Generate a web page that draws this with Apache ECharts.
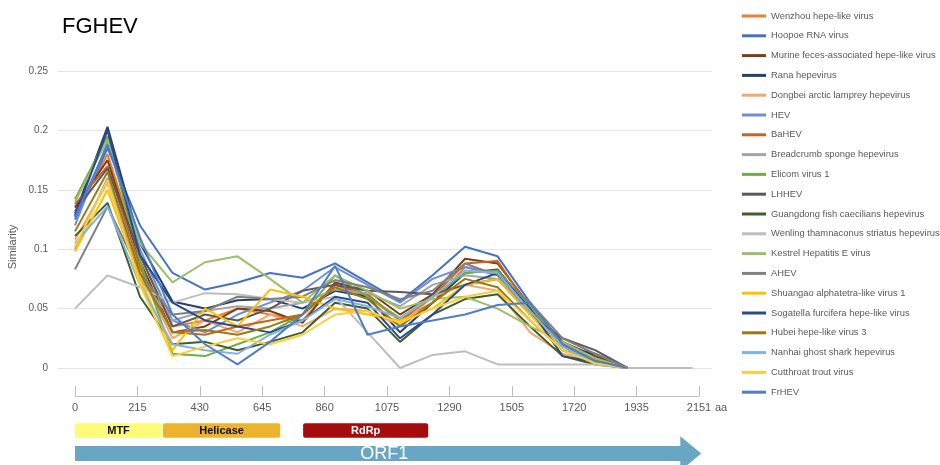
<!DOCTYPE html>
<html>
<head>
<meta charset="utf-8">
<script src="https://cdn.jsdelivr.net/npm/echarts@6/dist/echarts.min.js"></script>
<style>
  html, body { margin: 0; padding: 0; background: #ffffff; }
  #chart { width: 940px; height: 465px; }
</style>
</head>
<body>
<div id="chart"></div>
<script>
// Sliding-window start positions along ORF1 (aa)
const windowPos = [0, 112, 224, 336, 448, 560, 672, 784, 896, 1008, 1120, 1232, 1344, 1456, 1568, 1680, 1792, 1904, 2016, 2128];

// Similarity of FGHEV ORF1 to each virus, one value per window
const wenzhou    = [0.128, 0.180, 0.095, 0.035, 0.040, 0.050, 0.045, 0.040, 0.070, 0.060, 0.040, 0.055, 0.085, 0.080, 0.045, 0.020, 0.008, 0];
const hoopoe     = [0.125, 0.185, 0.120, 0.080, 0.066, 0.072, 0.080, 0.076, 0.088, 0.072, 0.056, 0.078, 0.102, 0.094, 0.055, 0.020, 0.005, 0];
const murine     = [0.135, 0.175, 0.090, 0.030, 0.035, 0.050, 0.048, 0.038, 0.072, 0.065, 0.045, 0.062, 0.092, 0.088, 0.052, 0.022, 0.010, 0];
const rana       = [0.130, 0.203, 0.105, 0.056, 0.050, 0.057, 0.058, 0.050, 0.065, 0.060, 0.030, 0.055, 0.080, 0.083, 0.050, 0.018, 0.012, 0];
const dongbei    = [0.108, 0.156, 0.080, 0.025, 0.040, 0.030, 0.045, 0.035, 0.050, 0.048, 0.036, 0.060, 0.070, 0.065, 0.030, 0.012, 0.005, 0];
const hev        = [0.120, 0.190, 0.100, 0.040, 0.030, 0.045, 0.055, 0.065, 0.085, 0.070, 0.055, 0.075, 0.085, 0.078, 0.048, 0.020, 0.006, 0];
const bahev      = [0.138, 0.170, 0.085, 0.030, 0.028, 0.035, 0.040, 0.045, 0.070, 0.062, 0.040, 0.060, 0.088, 0.090, 0.050, 0.020, 0.008, 0];
const breadcrumb = [0.100, 0.160, 0.075, 0.040, 0.048, 0.052, 0.050, 0.055, 0.066, 0.063, 0.052, 0.070, 0.078, 0.075, 0.046, 0.018, 0.004, 0];
const elicom     = [0.142, 0.195, 0.090, 0.012, 0.010, 0.020, 0.030, 0.045, 0.078, 0.060, 0.042, 0.060, 0.080, 0.082, 0.052, 0.020, 0.004, 0];
const lhhev      = [0.132, 0.168, 0.095, 0.035, 0.045, 0.040, 0.050, 0.065, 0.070, 0.065, 0.064, 0.062, 0.070, 0.075, 0.045, 0.025, 0.015, 0];
const guangdong  = [0.111, 0.139, 0.060, 0.020, 0.022, 0.015, 0.022, 0.030, 0.055, 0.050, 0.022, 0.045, 0.058, 0.062, 0.035, 0.010, 0.003, 0];
const wenling    = [0.050, 0.078, 0.068, 0.055, 0.063, 0.062, 0.058, 0.055, 0.060, 0.030, 0.000, 0.011, 0.014, 0.003, 0.003, 0.003, 0.003, 0, 0, 0];
const kestrel    = [0.140, 0.192, 0.105, 0.072, 0.089, 0.094, 0.075, 0.055, 0.078, 0.065, 0.050, 0.058, 0.060, 0.050, 0.035, 0.022, 0.008, 0];
const ahev       = [0.083, 0.136, 0.080, 0.045, 0.048, 0.060, 0.058, 0.060, 0.074, 0.068, 0.058, 0.065, 0.088, 0.078, 0.055, 0.025, 0.012, 0];
const shuangao   = [0.098, 0.150, 0.075, 0.015, 0.050, 0.035, 0.066, 0.060, 0.050, 0.045, 0.040, 0.050, 0.070, 0.075, 0.045, 0.015, 0.005, 0];
const sogatella  = [0.128, 0.200, 0.095, 0.055, 0.040, 0.035, 0.030, 0.040, 0.060, 0.055, 0.025, 0.045, 0.070, 0.080, 0.050, 0.010, 0.005, 0];
const hubei      = [0.115, 0.165, 0.080, 0.030, 0.032, 0.028, 0.035, 0.045, 0.068, 0.058, 0.035, 0.055, 0.075, 0.068, 0.040, 0.015, 0.006, 0];
const nanhai     = [0.105, 0.136, 0.070, 0.020, 0.015, 0.012, 0.028, 0.040, 0.058, 0.052, 0.042, 0.060, 0.082, 0.080, 0.048, 0.018, 0.004, 0];
const cutthroat  = [0.102, 0.158, 0.070, 0.010, 0.018, 0.025, 0.020, 0.028, 0.045, 0.048, 0.038, 0.050, 0.060, 0.065, 0.040, 0.015, 0.004, 0];
const frhev      = [0.127, 0.188, 0.110, 0.045, 0.020, 0.003, 0.022, 0.045, 0.086, 0.028, 0.035, 0.040, 0.045, 0.053, 0.055, 0.020, 0.006, 0];

const virusNames = [
  'Wenzhou hepe-like virus', 'Hoopoe RNA virus', 'Murine feces-associated hepe-like virus',
  'Rana hepevirus', 'Dongbei arctic lamprey hepevirus', 'HEV', 'BaHEV',
  'Breadcrumb sponge hepevirus', 'Elicom virus 1', 'LHHEV', 'Guangdong fish caecilians hepevirus',
  'Wenling thamnaconus striatus hepevirus', 'Kestrel Hepatitis E virus', 'AHEV',
  'Shuangao alphatetra-like virus 1', 'Sogatella furcifera hepe-like virus', 'Hubei hepe-like virus 3',
  'Nanhai ghost shark hepevirus', 'Cutthroat trout virus', 'FrHEV'
];
const virusValues = [wenzhou, hoopoe, murine, rana, dongbei, hev, bahev, breadcrumb, elicom, lhhev,
  guangdong, wenling, kestrel, ahev, shuangao, sogatella, hubei, nanhai, cutthroat, frhev];

// Genome scale below the plot
const scaleTicks  = [0, 215, 430, 645, 860, 1075, 1290, 1505, 1720, 1935, 2150];
const scaleLabels = ['0', '215', '430', '645', '860', '1075', '1290', '1505', '1720', '1935', '2151'];

// Protein domains on ORF1 (aa)
const domainNames = ['MTF', 'Helicase', 'RdRp'];
const domainStart = [0, 303, 786];
const domainEnd   = [300, 707, 1217];
const orfName = 'ORF1';
const orfStart = 0;
const orfEnd = 2151;

// ---- styling ----
const palette = ['#ED7D31', '#4472C4', '#7B3F14', '#26406E', '#F4A66C', '#6E8FD4', '#C8641E',
  '#A5A5A5', '#70AD47', '#5A5A5A', '#3F5F2A', '#BDBDBD', '#9BC067', '#808080',
  '#FFC000', '#2B4A8C', '#9C7A12', '#84B2DE', '#F8CF3A', '#4F7DCB'];
const domainColors = ['#FDFB78', '#EDB22E', '#A50D0D'];
const domainText   = ['#111111', '#111111', '#ffffff'];
const orfColor = '#69A6C4';
const textGray = '#595959';

// pixel layout
const plotLeft = 58, plotRight = 712, plotTop = 71, plotBottom = 368;
const scaleLeft = 75, scaleRight = 699;
const scaleMax = scaleTicks[scaleTicks.length - 1];
const pxPerAa = (scaleRight - scaleLeft) / scaleMax;
const mainMin = -(scaleLeft - plotLeft) / pxPerAa;
const mainMax = scaleMax + (plotRight - scaleRight) / pxPerAa;

const lineSeries = virusNames.map((name, i) => ({
  name: name,
  type: 'line',
  xAxisIndex: 0,
  yAxisIndex: 0,
  symbol: 'none',
  animation: false,
  color: palette[i],
  lineStyle: { width: 2, color: palette[i] },
  data: virusValues[i].map((v, k) => [windowPos[k], v])
}));

const domainData = domainNames.map((n, i) => [domainStart[i], domainEnd[i], 0, n, i]);

const domainSeries = {
  type: 'custom',
  xAxisIndex: 2,
  yAxisIndex: 2,
  clip: false,
  animation: false,
  data: domainData,
  renderItem: function (params, api) {
    const i = api.value(4);
    const s = api.coord([api.value(0), 0]);
    const e = api.coord([api.value(1), 0]);
    const h = api.size([0, 1])[1] * 0.62;
    return {
      type: 'rect',
      shape: { x: s[0], y: s[1] - h / 2, width: e[0] - s[0], height: h, r: 2 },
      style: { fill: domainColors[i] },
      textContent: {
        style: {
          text: domainNames[i],
          fill: domainText[i],
          fontSize: 11,
          fontWeight: 'bold',
          fontFamily: '"Liberation Sans Narrow", "Liberation Sans", Arial, sans-serif'
        }
      },
      textConfig: { position: 'inside' }
    };
  }
};

const orfSeries = {
  type: 'custom',
  xAxisIndex: 2,
  yAxisIndex: 2,
  clip: false,
  animation: false,
  data: [[orfStart, orfEnd, 1]],
  renderItem: function (params, api) {
    const s = api.coord([api.value(0), 1]);
    const e = api.coord([api.value(1), 1]);
    const band = api.size([0, 1])[1];
    const bodyH = band * 0.66;
    const headH = band * 1.5;
    const headL = 21;
    const cy = s[1];
    const tip = e[0] + 2;
    const hx = tip - headL;
    return {
      type: 'group',
      children: [
        {
          type: 'polygon',
          shape: {
            points: [
              [s[0], cy - bodyH / 2], [hx, cy - bodyH / 2], [hx, cy - headH / 2], [tip, cy],
              [hx, cy + headH / 2], [hx, cy + bodyH / 2], [s[0], cy + bodyH / 2]
            ]
          },
          style: { fill: orfColor }
        },
        {
          type: 'text',
          style: {
            text: orfName,
            x: (s[0] + e[0]) / 2 - 3,
            y: cy + 1,
            align: 'center',
            verticalAlign: 'middle',
            fill: '#ffffff',
            fontSize: 18,
            fontFamily: '"Liberation Sans Narrow", "Liberation Sans", Arial, sans-serif'
          }
        }
      ]
    };
  }
};

const chart = echarts.init(document.getElementById('chart'), null, { renderer: 'canvas' });

chart.setOption({
  backgroundColor: '#ffffff',
  animation: false,
  textStyle: { fontFamily: '"Liberation Sans", Arial, sans-serif' },
  title: {
    text: 'FGHEV',
    left: 57,
    top: 11,
    textStyle: { fontSize: 22, fontWeight: 'normal', color: '#000000', fontFamily: '"Liberation Sans", Arial, sans-serif' }
  },
  legend: {
    orient: 'vertical',
    left: 742,
    top: 9,
    padding: 0,
    itemWidth: 24,
    itemHeight: 14,
    itemGap: 5.8,
    selectedMode: false,
    icon: 'path://M0,0L24,0L24,3L0,3Z',
    textStyle: { fontSize: 9.4, color: textGray, lineHeight: 14 },
    data: virusNames
  },
  grid: [
    { left: plotLeft, top: plotTop, width: plotRight - plotLeft, height: plotBottom - plotTop },
    { left: scaleLeft, top: 380, width: scaleRight - scaleLeft, height: 16 },
    { left: scaleLeft, top: 419, width: scaleRight - scaleLeft, height: 46 }
  ],
  xAxis: [
    { type: 'value', gridIndex: 0, min: mainMin, max: mainMax, show: false },
    {
      type: 'value', gridIndex: 1, min: 0, max: scaleMax, interval: 215,
      axisLine: { show: true, lineStyle: { color: '#bfbfbf', width: 1 } },
      axisTick: { show: true, inside: true, length: 10, lineStyle: { color: '#bfbfbf' } },
      splitLine: { show: false },
      axisLabel: {
        margin: 6, fontSize: 11, color: textGray,
        formatter: function (v) {
          const idx = scaleTicks.indexOf(Math.round(v));
          return idx >= 0 ? scaleLabels[idx] : '';
        }
      }
    },
    { type: 'value', gridIndex: 2, min: 0, max: scaleMax, show: false }
  ],
  yAxis: [
    {
      type: 'value', gridIndex: 0, min: 0, max: 0.25, interval: 0.05,
      axisLine: { show: false },
      axisTick: { show: false },
      splitLine: { show: true, lineStyle: { color: '#e4e4e4', width: 1 } },
      axisLabel: { margin: 10, fontSize: 10, color: textGray }
    },
    { type: 'value', gridIndex: 1, show: false },
    { type: 'category', gridIndex: 2, data: ['domains', 'ORF1'], inverse: true, show: false }
  ],
  graphic: [
    {
      type: 'text',
      x: 13, y: 247,
      rotation: Math.PI / 2,
      style: { text: 'Similarity', fontSize: 11, fill: textGray, align: 'center', verticalAlign: 'middle' }
    },
    {
      type: 'text',
      x: 715, y: 408,
      style: { text: 'aa', fontSize: 11, fill: textGray, align: 'left', verticalAlign: 'middle' }
    }
  ],
  series: lineSeries.concat([domainSeries, orfSeries])
});
</script>
</body>
</html>
